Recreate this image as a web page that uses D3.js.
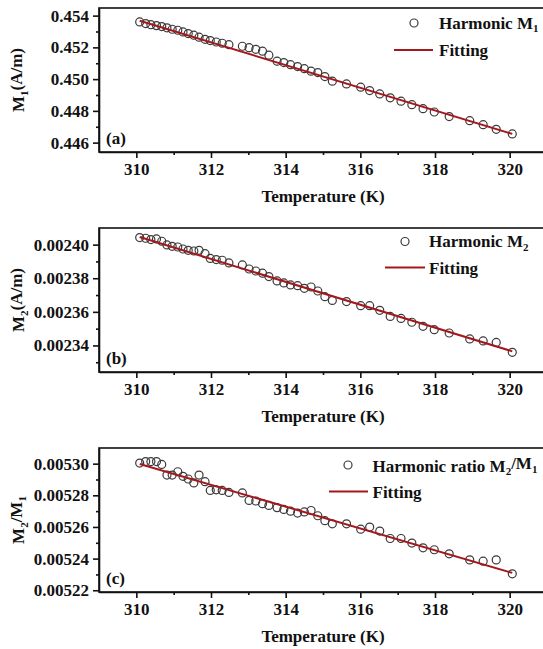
<!DOCTYPE html>
<html lang="en">
<head>
    <meta charset="UTF-8">
    <title>Harmonics vs Temperature</title>
    <script src="https://d3js.org/d3.v7.min.js"></script>
    <style>
        body { margin: 0; background: #fff; }
        svg text { font-family: "Liberation Serif", "Times New Roman", serif; font-weight: bold; fill: #111; }
        .axis path, .axis line { stroke: #111; stroke-width: 1.6; }
        .axis text { font-size: 17px; }
        .frame { fill: none; stroke: #111; stroke-width: 1.6; }
        .pt { fill: none; stroke: #3a3a3a; stroke-width: 1.2; }
        .fit { fill: none; stroke: #a3181c; stroke-width: 2; }
    </style>
</head>
<body>
<svg width="543" height="649"></svg>
<script>
// temperatures (K), shared by all three panels
const temps = [310.09, 310.25, 310.39, 310.54, 310.68, 310.82, 310.96, 311.11, 311.25, 311.39,
    311.54, 311.68, 311.84, 311.98, 312.14, 312.30, 312.48, 312.84, 313.02, 313.20,
    313.38, 313.55, 313.77, 313.95, 314.13, 314.32, 314.50, 314.68, 314.86, 315.05,
    315.25, 315.63, 316.01, 316.25, 316.52, 316.80, 317.09, 317.38, 317.68, 317.98,
    318.38, 318.93, 319.29, 319.64, 320.07];

const m1Vals = [0.45360, 0.45350, 0.45343, 0.45337, 0.45331, 0.45323, 0.45314, 0.45308, 0.45297, 0.45287,
    0.45277, 0.45264, 0.45251, 0.45243, 0.45234, 0.45226, 0.45217, 0.45207, 0.45198, 0.45188,
    0.45176, 0.45151, 0.45113, 0.45104, 0.45091, 0.45079, 0.45066, 0.45050, 0.45041, 0.45016,
    0.44987, 0.44970, 0.44949, 0.44928, 0.44907, 0.44882, 0.44861, 0.44839, 0.44814, 0.44793,
    0.44764, 0.44738, 0.44713, 0.44684, 0.44655];

const m2Vals = [0.0024042, 0.0024038, 0.0024030, 0.0024034, 0.0024020, 0.0023998, 0.0023990, 0.0023986, 0.0023974, 0.0023966,
    0.0023962, 0.0023966, 0.0023946, 0.0023918, 0.0023911, 0.0023907, 0.0023891, 0.0023879, 0.0023855, 0.0023843,
    0.0023830, 0.0023810, 0.0023784, 0.0023772, 0.0023760, 0.0023756, 0.0023740, 0.0023748, 0.0023724, 0.0023690,
    0.0023668, 0.0023661, 0.0023637, 0.0023637, 0.0023609, 0.0023573, 0.0023561, 0.0023538, 0.0023514, 0.0023494,
    0.0023474, 0.0023439, 0.0023427, 0.0023418, 0.0023359];

const ratioVals = [0.0053004, 0.0053013, 0.0053013, 0.0053013, 0.0052995, 0.0052928, 0.0052928, 0.0052949, 0.0052920, 0.0052903,
    0.0052878, 0.0052928, 0.0052886, 0.0052831, 0.0052835, 0.0052831, 0.0052818, 0.0052815, 0.0052768, 0.0052764,
    0.0052747, 0.0052736, 0.0052722, 0.0052711, 0.0052700, 0.0052688, 0.0052695, 0.0052704, 0.0052671, 0.0052640,
    0.0052620, 0.0052620, 0.0052586, 0.0052599, 0.0052574, 0.0052527, 0.0052527, 0.0052498, 0.0052468, 0.0052456,
    0.0052430, 0.0052392, 0.0052384, 0.0052392, 0.0052304];

// linear fits (end points)
const fitT = [310.09, 320.07];
const fitM1 = [0.45368, 0.44655];
const fitM2 = [0.0024045, 0.0023365];
const fitRatio = [0.0052998, 0.0052310];

const xDomain = [309, 321];
const xTicks = [310, 312, 314, 316, 318, 320];
const xMinor = [311, 313, 315, 317, 319];

const m1Domain = [0.44541, 0.45448];
const m1Ticks = [0.446, 0.448, 0.450, 0.452, 0.454];
const m1Minor = [0.447, 0.449, 0.451, 0.453];

const m2Domain = [0.0023242, 0.0024099];
const m2Ticks = [0.00234, 0.00236, 0.00238, 0.00240];
const m2Minor = [0.00233, 0.00235, 0.00237, 0.00239];

const ratioDomain = [0.0052189, 0.0053099];
const ratioTicks = [0.00522, 0.00524, 0.00526, 0.00528, 0.00530];
const ratioMinor = [0.00523, 0.00525, 0.00527, 0.00529];

const panels = [
    {top: 8, vals: m1Vals, fit: fitM1, domain: m1Domain, ticks: m1Ticks, minor: m1Minor, fmt: ".3f",
     tag: "(a)", ylab: [["M"], ["1", "sub"], ["(A/m)"]],
     leg: {cx: 414, cy: 23, tx: 439, ty: 28.5, ly: 50, lx0: 394, lx1: 433, fy: 55.5,
           text: [["Harmonic M"], ["1", "sub"]]}},
    {top: 228, vals: m2Vals, fit: fitM2, domain: m2Domain, ticks: m2Ticks, minor: m2Minor, fmt: ".5f",
     tag: "(b)", ylab: [["M"], ["2", "sub"], ["(A/m)"]],
     leg: {cx: 405, cy: 241.5, tx: 429, ty: 247, ly: 267.5, lx0: 385, lx1: 425, fy: 273.5,
           text: [["Harmonic M"], ["2", "sub"]]}},
    {top: 448, vals: ratioVals, fit: fitRatio, domain: ratioDomain, ticks: ratioTicks, minor: ratioMinor, fmt: ".5f",
     tag: "(c)", ylab: [["M"], ["2", "sub"], ["/M"], ["1", "sub"]],
     leg: {cx: 348, cy: 465, tx: 372.5, ty: 471.5, ly: 491.5, lx0: 329, lx1: 368, fy: 497.5,
           text: [["Harmonic ratio M"], ["2", "sub"], ["/M"], ["1", "sub"]]}}
];

const svg = d3.select("svg");
const left = 99, right = 547, ph = 144;

const x = d3.scaleLinear().domain(xDomain).range([left, right]);

// writes text pieces, dropping subscripts a little
function richText(sel, parts) {
    let down = false;
    parts.forEach(p => {
        const t = sel.append("tspan").text(p[0]);
        if (p[1] === "sub") {
            t.attr("font-size", 11).attr("dy", "0.35em");
            down = true;
        } else if (down) {
            t.attr("dy", "-0.35em");
            down = false;
        }
    });
}

panels.forEach(p => {
    const bottom = p.top + ph;
    const y = d3.scaleLinear().domain(p.domain).range([bottom, p.top]);
    const g = svg.append("g");

    g.append("rect").attr("class", "frame")
        .attr("x", left).attr("y", p.top)
        .attr("width", right - left).attr("height", ph);

    // x axis
    g.append("g").attr("class", "axis")
        .attr("transform", `translate(0,${bottom})`)
        .call(d3.axisBottom(x).tickValues(xTicks).tickSize(6).tickSizeOuter(0).tickPadding(5).tickFormat(d3.format("d")));
    g.append("g").attr("class", "axis")
        .attr("transform", `translate(0,${bottom})`)
        .call(d3.axisBottom(x).tickValues(xMinor).tickSize(3).tickSizeOuter(0).tickFormat(""))
        .select(".domain").remove();

    // y axis
    g.append("g").attr("class", "axis")
        .attr("transform", `translate(${left},0)`)
        .call(d3.axisLeft(y).tickValues(p.ticks).tickSize(6).tickSizeOuter(0).tickPadding(4).tickFormat(d3.format(p.fmt)));
    g.append("g").attr("class", "axis")
        .attr("transform", `translate(${left},0)`)
        .call(d3.axisLeft(y).tickValues(p.minor).tickSize(3).tickSizeOuter(0).tickFormat(""))
        .select(".domain").remove();

    // data points
    g.append("g").selectAll("circle")
        .data(temps.map((t, i) => [t, p.vals[i]]))
        .join("circle")
        .attr("class", "pt")
        .attr("cx", d => x(d[0]))
        .attr("cy", d => y(d[1]))
        .attr("r", 4);

    // fit line
    g.append("path").attr("class", "fit")
        .attr("d", d3.line().x(d => x(d[0])).y(d => y(d[1]))(fitT.map((t, i) => [t, p.fit[i]])));

    // labels
    g.append("text").attr("x", 106).attr("y", bottom - 8).attr("font-size", 17).text(p.tag);

    g.append("text")
        .attr("x", (left + right) / 2).attr("y", bottom + 50)
        .attr("text-anchor", "middle").attr("font-size", 17)
        .text("Temperature (K)");

    const yl = g.append("text")
        .attr("transform", `translate(24,${p.top + ph / 2}) rotate(-90)`)
        .attr("text-anchor", "middle").attr("font-size", 17);
    richText(yl, p.ylab);

    // legend
    const L = p.leg;
    g.append("circle").attr("class", "pt").attr("cx", L.cx).attr("cy", L.cy).attr("r", 4);
    richText(g.append("text").attr("x", L.tx).attr("y", L.ty).attr("font-size", 17), L.text);
    g.append("line").attr("class", "fit")
        .attr("x1", L.lx0).attr("x2", L.lx1).attr("y1", L.ly).attr("y2", L.ly);
    g.append("text").attr("x", L.tx).attr("y", L.fy).attr("font-size", 17).text("Fitting");
});
</script>
</body>
</html>
